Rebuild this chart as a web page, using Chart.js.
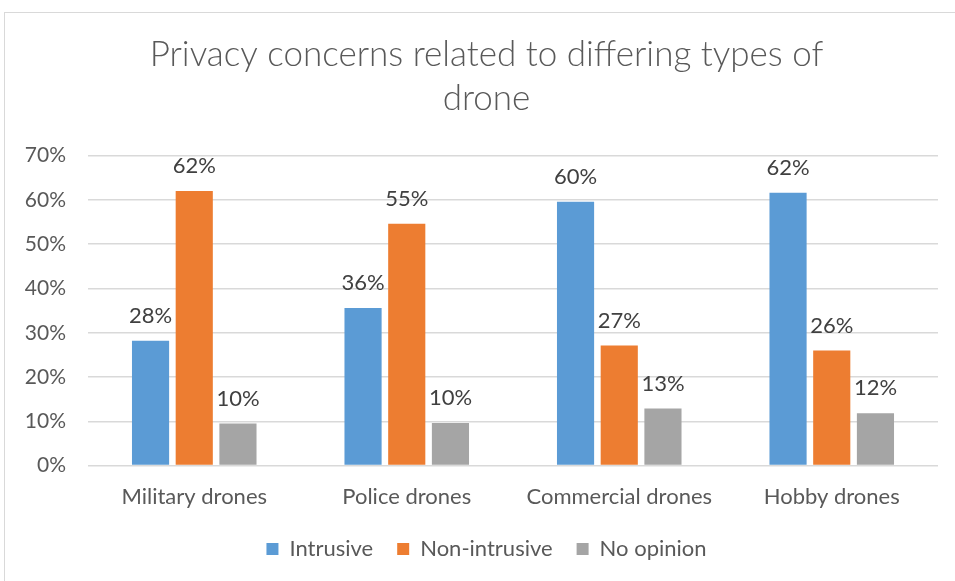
<!DOCTYPE html>
<html lang="en">
<head>
  <meta charset="UTF-8">
  <title>Privacy concerns related to differing types of drone</title>
  <script src="https://cdn.jsdelivr.net/npm/chart.js"></script>
  <style>
    html, body {
      margin: 0;
      padding: 0;
      background: #ffffff;
      overflow: hidden;
    }
    .frame {
      position: absolute;
      left: 4px;
      top: 12px;
      width: 1000px;
      height: 640px;
      border: 1px solid #d9d9d9;
    }
    .box {
      position: absolute;
      left: 0;
      top: 0;
      width: 955px;
      height: 581px;
    }
  </style>
</head>
<body>
  <div class="frame"></div>
  <div class="box"><canvas id="chart"></canvas></div>

  <script>
    const categories = ['Military drones', 'Police drones', 'Commercial drones', 'Hobby drones'];
    const intrusive = [28.2, 35.6, 59.6, 61.6];
    const nonIntrusive = [62.0, 54.6, 27.1, 26.0];
    const noOpinion = [9.5, 9.6, 12.9, 11.8];
    const yTicks = [0, 10, 20, 30, 40, 50, 60, 70];

    const FONT = "Lato, 'Open Sans', sans-serif";

    // draws the % labels above each bar
    const barLabels = {
      id: 'barLabels',
      afterDatasetsDraw(chart) {
        const ctx = chart.ctx;
        ctx.save();
        ctx.font = '22px ' + FONT;
        ctx.fillStyle = '#404040';
        ctx.textAlign = 'center';
        ctx.textBaseline = 'bottom';
        chart.data.datasets.forEach((ds, i) => {
          chart.getDatasetMeta(i).data.forEach((bar, j) => {
            ctx.fillText(Math.round(ds.data[j]) + '%', bar.x, bar.y - 14);
          });
        });
        ctx.restore();
      }
    };

    new Chart(document.getElementById('chart'), {
      type: 'bar',
      data: {
        labels: categories,
        datasets: [
          { label: 'Intrusive', data: intrusive, backgroundColor: '#5b9bd5' },
          { label: 'Non-intrusive', data: nonIntrusive, backgroundColor: '#ed7d31' },
          { label: 'No opinion', data: noOpinion, backgroundColor: '#a5a5a5' }
        ]
      },
      options: {
        responsive: true,
        maintainAspectRatio: false,
        animation: false,
        layout: { padding: { left: 18, right: 0, top: 0, bottom: 11 } },
        datasets: {
          bar: { categoryPercentage: 0.617, barPercentage: 0.85 }
        },
        plugins: {
          title: {
            display: true,
            text: ['Privacy concerns related to differing types of', 'drone'],
            color: '#595959',
            font: { family: FONT, size: 35, weight: '300', lineHeight: 1.28 },
            padding: { top: 32, bottom: 34 }
          },
          legend: {
            position: 'bottom',
            labels: {
              color: '#595959',
              font: { family: FONT, size: 22 },
              boxWidth: 12,
              boxHeight: 12,
              padding: 24
            }
          },
          tooltip: { enabled: false }
        },
        scales: {
          x: {
            grid: { display: false },
            border: { display: false },
            afterFit(scale) { scale.height -= 6; },
            ticks: { color: '#595959', font: { family: FONT, size: 22 }, padding: 10 }
          },
          y: {
            min: 0,
            max: 70,
            afterBuildTicks(scale) {
              scale.ticks = yTicks.map(v => ({ value: v }));
            },
            afterFit(scale) { scale.width = 70; },
            grid: { color: '#d9d9d9', lineWidth: 1.5, drawTicks: false },
            border: { display: false },
            ticks: {
              color: '#595959',
              font: { family: FONT, size: 21 },
              padding: 22,
              callback: v => v + '%'
            }
          },
          // empty right-hand strip so the plot ends where the original does
          yRight: {
            type: 'linear',
            position: 'right',
            grid: { display: false },
            border: { display: false },
            ticks: { display: false },
            afterFit(scale) { scale.width = 17; }
          }
        }
      },
      plugins: [barLabels]
    });
  </script>
</body>
</html>
